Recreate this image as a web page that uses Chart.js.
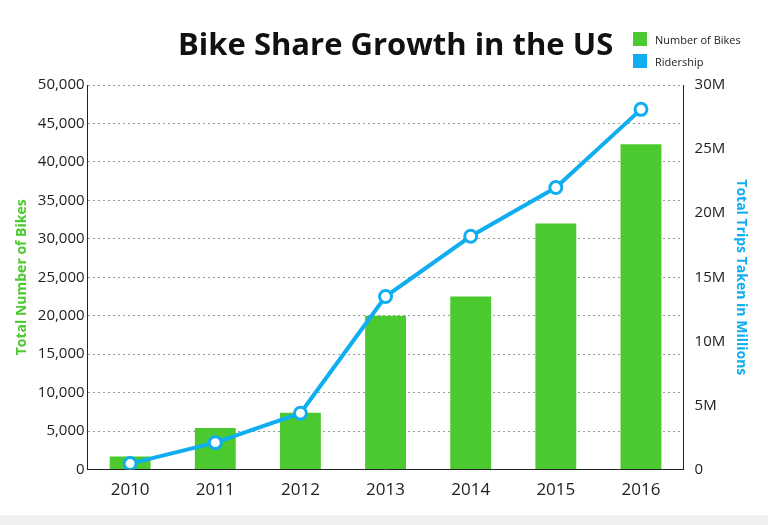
<!DOCTYPE html>
<html>
<head>
<meta charset="utf-8">
<script src="https://cdn.jsdelivr.net/npm/chart.js@4"></script>
<style>
  body { margin: 0; background: #fff; font-family: "Open Sans", sans-serif; }
  #wrap { position: relative; width: 768px; height: 525px; }
  #title { position: absolute; left: 178px; top: 22px; font: bold 31px "Open Sans", sans-serif; color: #111; }
  #legend { position: absolute; left: 633px; top: 28px; font: 11px "Open Sans", sans-serif; color: #222; }
  #legend div { height: 22px; display: flex; align-items: center; }
  #legend span { display: inline-block; width: 14px; height: 14px; margin-right: 8px; }
  #foot { position: absolute; left: 0; top: 515px; width: 768px; height: 10px; background: #f0f0f0; }
</style>
</head>
<body>
<div id="wrap">
  <canvas id="chart-bike" width="768" height="515"></canvas>
  <div id="title">Bike Share Growth in the US</div>
  <div id="legend">
    <div><span style="background:#4cc92f"></span>Number of Bikes</div>
    <div><span style="background:#10aef0"></span>Ridership</div>
  </div>
  <div id="foot"></div>
</div>
<script>
const years = ["2010", "2011", "2012", "2013", "2014", "2015", "2016"];
const bikes = [1700, 5400, 7400, 20000, 22500, 32000, 42300];
const ridership = [0.47, 2.1, 4.4, 13.5, 18.2, 22.0, 28.1];

const ctx = document.getElementById("chart-bike").getContext("2d");
new Chart(ctx, {
  data: {
    labels: years,
    datasets: [
      {
        type: "line",
        label: "Ridership",
        data: ridership,
        yAxisID: "y1",
        borderColor: "#10aef0",
        borderWidth: 4,
        pointBackgroundColor: "#fff",
        pointBorderColor: "#10aef0",
        pointBorderWidth: 3,
        pointRadius: 6,
        tension: 0,
      },
      {
        type: "bar",
        label: "Number of Bikes",
        data: bikes,
        yAxisID: "y",
        backgroundColor: "#4cc92f",
        barPercentage: 0.48,
        categoryPercentage: 1,
      },
    ],
  },
  options: {
    responsive: false,
    animation: false,
    layout: { padding: { top: 85, left: 10, right: 15, bottom: 5 } },
    plugins: { legend: { display: false }, tooltip: { enabled: false } },
    scales: {
      x: {
        grid: { display: false, drawTicks: false },
        border: { color: "#222", width: 1 },
        ticks: { color: "#222", font: { size: 17, family: "Open Sans" }, padding: 10 },
      },
      y: {
        position: "left",
        min: 0,
        max: 50000,
        ticks: {
          stepSize: 5000,
          color: "#222",
          font: { size: 15, family: "Open Sans" },
          callback: (v) => v.toLocaleString("en-US"),
        },
        grid: { color: "#999", drawTicks: false, lineWidth: 1 },
        border: { color: "#222", dash: [2, 3] },
        title: { display: true, text: "Total Number of Bikes", color: "#4cc92f", font: { size: 14, weight: "bold", family: "Open Sans" } },
      },
      y1: {
        position: "right",
        min: 0,
        max: 30,
        ticks: {
          stepSize: 5,
          color: "#222",
          font: { size: 15, family: "Open Sans" },
          callback: (v) => (v === 0 ? "0" : v + "M"),
        },
        grid: { display: false },
        border: { color: "#222" },
        title: { display: true, text: "Total Trips Taken in Millions", color: "#10aef0", font: { size: 14, weight: "bold", family: "Open Sans" } },
      },
    },
  },
});
</script>
</body>
</html>
